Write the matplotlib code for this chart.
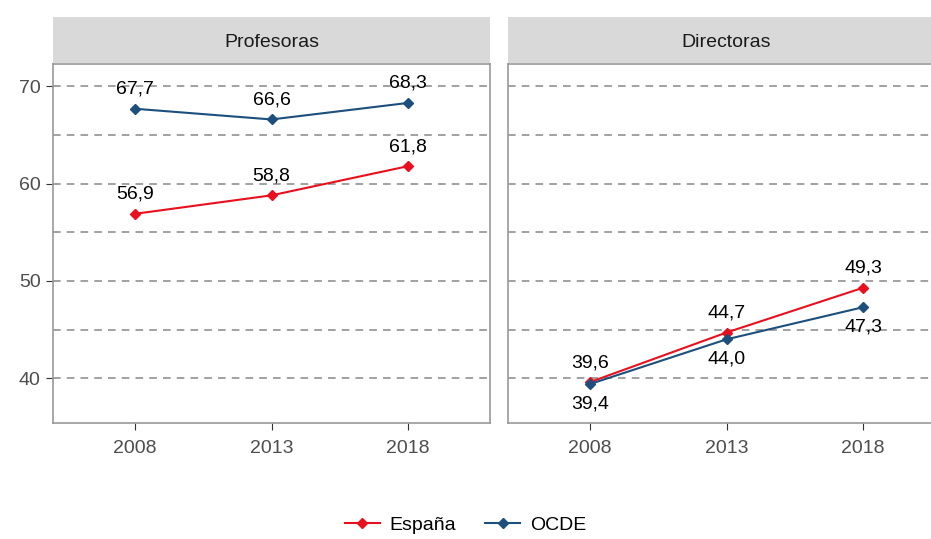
import matplotlib
matplotlib.use('Agg')
from matplotlib import pyplot as plt
from matplotlib.patches import Rectangle

years = [2008, 2013, 2018]
panels = ['Profesoras', 'Directoras']
espana = {'Profesoras': [56.9, 58.8, 61.8], 'Directoras': [39.6, 44.7, 49.3]}
ocde = {'Profesoras': [67.7, 66.6, 68.3], 'Directoras': [39.4, 44.0, 47.3]}
# label placement: +1 above, -1 below
esp_pos = {'Profesoras': 1, 'Directoras': 1}
ocde_pos = {'Profesoras': 1, 'Directoras': -1}

red = '#e8101e'
blue = '#1d4f7c'
grey_txt = '#4d4d4d'

W, H = 931, 539
fig = plt.figure(figsize=(W / 100, H / 100), dpi=100)
plt.rcParams['font.family'] = 'Liberation Sans'

lefts = [53, 508]
pw, top, bot = 437, 64, 423
strip_top = 17

def fmt(v):
    return f'{v:.1f}'.replace('.', ',')

lines = []
for i, name in enumerate(panels):
    ax = fig.add_axes([lefts[i] / W, (H - bot) / H, pw / W, (bot - top) / H])
    ax.set_xlim(2005, 2021)
    ax.set_ylim(35.4, 72.3)
    for y in [40, 45, 50, 55, 60, 65, 70]:
        ax.axhline(y, color='#888888', lw=1.1, ls=(0, (5, 4)), zorder=1)
    l1, = ax.plot(years, espana[name], color=red, marker='D', ms=5, lw=1.5, zorder=3)
    l2, = ax.plot(years, ocde[name], color=blue, marker='D', ms=5, lw=1.5, zorder=3)
    lines = [l1, l2]
    for x, v in zip(years, espana[name]):
        ax.annotate(fmt(v), (x, v), xytext=(0, 14 * esp_pos[name]), textcoords='offset points',
                    ha='center', va='center', fontsize=14, color='black', zorder=4)
    for x, v in zip(years, ocde[name]):
        ax.annotate(fmt(v), (x, v), xytext=(0, 14 * ocde_pos[name]), textcoords='offset points',
                    ha='center', va='center', fontsize=14, color='black', zorder=4)
    ax.set_xticks(years)
    ax.set_yticks([40, 50, 60, 70])
    ax.tick_params(colors='#333333', labelcolor=grey_txt, labelsize=14, length=5, width=0.8, pad=4)
    ax.tick_params(axis='x', pad=7)
    if i == 1:
        ax.tick_params(axis='y', left=False, labelleft=False)
    for s in ax.spines.values():
        s.set_color('#999999')
        s.set_linewidth(1.2)
    # strip
    sax = fig.add_axes([lefts[i] / W, (H - top + 1) / H, pw / W, (top - 1 - strip_top) / H])
    sax.add_patch(Rectangle((0, 0), 1, 1, transform=sax.transAxes, facecolor='#d9d9d9',
                            edgecolor='none'))
    sax.set_xticks([])
    sax.set_yticks([])
    for s in sax.spines.values():
        s.set_visible(False)
    sax.text(0.5, 0.44, name, ha='center', va='center', fontsize=14, color='#1a1a1a',
             transform=sax.transAxes)

fig.legend(lines, ['España', 'OCDE'], loc='center', bbox_to_anchor=(0.5, 1 - 525 / H), ncol=2,
           frameon=False, fontsize=14, handlelength=1.8, columnspacing=1.5, handletextpad=0.5)

fig.savefig('out.png', dpi=100)
